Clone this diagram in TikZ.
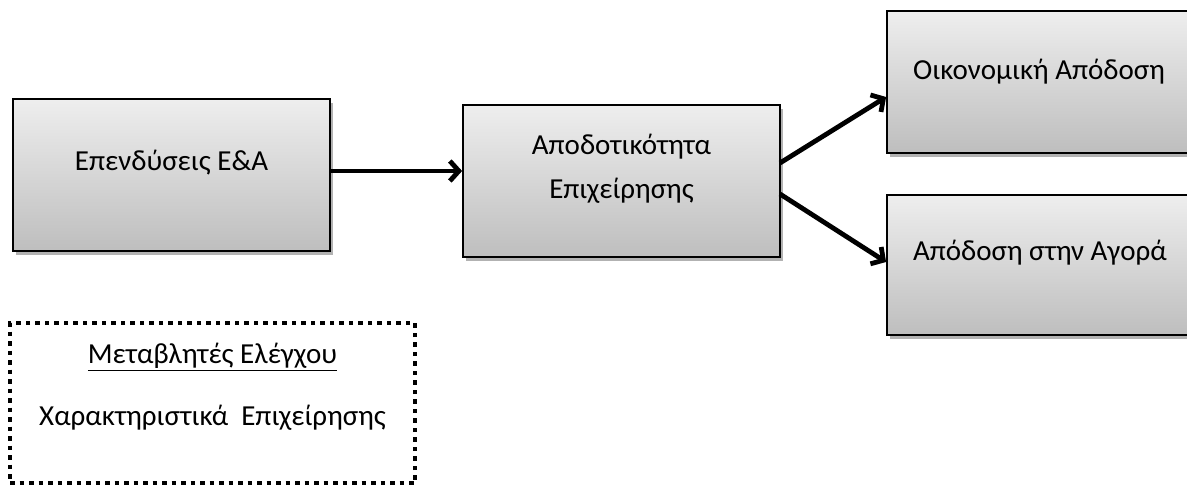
\documentclass[tikz,border=0pt]{standalone}
\usepackage{fontspec}
\setmainfont{Carlito}
\usetikzlibrary{arrows.meta,shadows}
\definecolor{boxtop}{RGB}{238,238,238}
\definecolor{boxbot}{RGB}{190,190,190}
\tikzset{
  box/.style={draw=black, line width=1.8pt, top color=boxtop, bottom color=boxbot,
    drop shadow={shadow xshift=3pt, shadow yshift=-4pt, opacity=0.3, fill=black},
    align=center, inner sep=0pt, font=\fontsize{29}{44}\selectfont},
  conn/.style={line width=4.8pt, -{Straight Barb[length=9pt,width=20pt,line width=4.8pt]}},
  ctrl/.style={draw=black, line width=4.5pt, dash pattern=on 4.5pt off 5pt, inner sep=0pt,
    align=center, font=\fontsize{29}{34}\selectfont}
}
\begin{document}
\begin{tikzpicture}[x=1pt,y=-1pt]
\useasboundingbox (0,0) rectangle (1187,487);
\begin{scope}
\clip (0,0) rectangle (1187,487);
\node[box, minimum width=317pt, minimum height=152pt, text depth=30pt] (inv) at (171.5,175) {Επενδύσεις Ε\&Α};
\node[box, minimum width=317pt, minimum height=152pt, text depth=30pt] (eff) at (621.5,181) {Αποδοτικότητα\\Επιχείρησης};
\node[box, minimum width=312pt, minimum height=142pt, text depth=25pt] (fin) at (1043,82) {\hspace*{-8pt}Οικονομική Απόδοση};
\node[box, minimum width=312pt, minimum height=140pt, text depth=30pt] (mkt) at (1043,265) {\hspace*{-6pt}Απόδοση στην Αγορά};
\node[ctrl, minimum width=405pt, minimum height=160pt] (ctl) at (212.5,403) {};
\node[font=\fontsize{29}{34}\selectfont] (ctlt) at (212.5,357) {\underline{Μεταβλητές Ελέγχου}};
\node[font=\fontsize{29}{34}\selectfont] (ctlb) at (212.5,418) {Χαρακτηριστικά\ \ Επιχείρησης};
\draw[conn] (inv.east |- 0,171) -- (eff.west |- 0,171);
\draw[conn] (780,163) -- (fin.west |- 0,97);
\draw[conn] (780,194) -- (mkt.west |- 0,262);
\end{scope}
\end{tikzpicture}
\end{document}
